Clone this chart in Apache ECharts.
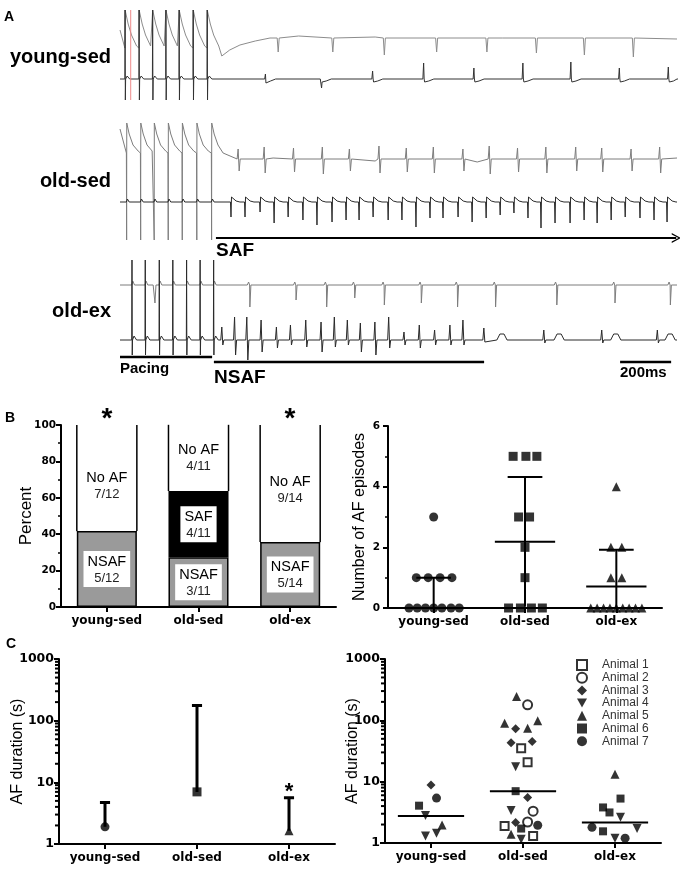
<!DOCTYPE html>
<html>
<head>
<meta charset="utf-8">
<script src="https://cdn.jsdelivr.net/npm/echarts@6/dist/echarts.min.js"></script>
<style>
  html, body { margin: 0; padding: 0; background: #fff; }
  #main { width: 680px; height: 871px; }
</style>
</head>
<body>
<div id="main"></div>
<script>
var groups = ['young-sed', 'old-sed', 'old-ex'];

// ---------- A: example recordings (time in ms, amplitude in display units, + = up)
var sweepMs = 2183;
var markerMs = 42;
var pacingSpan = [0, 361];
var nsafSpan = [368, 1427];
var scaleSpan = [1960, 2160];   // 200 ms
var safSpan = [376, 2180];

var ysPace = [20, 75, 128, 180, 232, 287, 342];
var ysUpperPath = [[0, 8], [19, -10], [399, -18], [430, -12], [470, -7], [530, -3], [588, 0], [700, 2], [1000, 1], [1500, 0], [2183, -1]];
var ysUpperBeats = [[620, 0, -14], [834, 0, -14], [1036, 0, -17], [1241, 0, -14], [1438, 0, -14], [1632, 0, -15], [1820, 0, -17], [2012, 0, -19]];
var ysLowerPath = [[0, 0], [2183, 0]];
var ysLowerBeats = [[570, 5, -4], [788, 0, -9], [990, 8, 0], [1190, 16, 0], [1387, 11, 0], [1579, 16, 0], [1767, 17, 0], [1957, 11, 0], [2149, 12, 0]];

var osPace = [26, 81, 134, 189, 244, 301, 359];
var osUpperPath = [[0, 30], [25, 6], [404, 6], [600, 1], [1000, -2], [1400, -3], [1900, -1], [2183, 1]];
var osUpperBeats = [[463, 10, -12], [565, 12, -14], [680, 11, -13], [793, 12, -15], [899, 10, -12], [1015, 13, -14], [1122, 11, -13], [1228, 12, -14],
  [1344, 10, -12], [1447, 13, -15], [1558, 11, -13], [1669, 12, -14], [1786, 12, -12], [1888, 11, -13], [2003, 10, -12], [2115, 12, -14]];
var osLowerPath = [[0, 0], [2183, 0]];
var osLowerBeats = [[435, 0, -15], [490, 0, -15], [549, 0, -10], [604, 0, -21], [659, 0, -15], [717, 0, -18], [772, 0, -23], [831, 0, -20],
  [886, 0, -18], [937, 0, -18], [992, 0, -15], [1051, 0, -18], [1105, 0, -18], [1160, 0, -25], [1215, 0, -16], [1266, 0, -16],
  [1325, 0, -15], [1380, 0, -20], [1435, 0, -16], [1490, 0, -13], [1544, 0, -11], [1599, 0, -16], [1650, 0, -26], [1705, 0, -21],
  [1764, 0, -21], [1819, 0, -18], [1870, 0, -21], [1925, 0, -18], [1980, 0, -15], [2038, 0, -16], [2093, 0, -18], [2144, 0, -20]];

var oePace = [47, 99, 154, 207, 261, 314, 367];
var oeUpperPath = [[0, 0], [130, 0], [137, -18], [141, 0], [2183, 0]];
var oeUpperBeats = [[509, 0, -22], [690, 0, -15], [810, 0, -22], [920, 0, -13], [1036, 0, -20], [1181, 0, -18], [1323, 0, -22], [1472, 0, -22],
  [1712, 0, -20], [1940, 0, -18], [2157, 0, -20]];
var oeLowerPath = [[0, 0], [2183, 0]];
var oeLowerBeats = [[399, 13, -5], [449, 23, -15], [497, 23, -20], [553, 20, -12], [613, 13, -8], [668, 15, -5], [728, 20, -7], [788, 18, -12],
  [840, 23, -7], [891, 20, -5], [942, 17, -12], [999, 18, -15], [1053, 23, -8], [1113, 8, -5], [1173, 15, -8], [1233, 10, -5],
  [1293, 15, -5], [1344, 20, -5], [1426, 12, -2], [1661, 10, -3], [1888, 10, -3], [2106, 10, -3]];
var oeLowerHumps = [[1497, 6], [1721, 6], [1943, 6], [2156, 6]];

// ---------- B: AF inducibility
var nsafPct = [41.7, 27.3, 35.7];
var safPct = [0, 36.4, 0];
var noAfPct = [58.3, 36.4, 64.3];
var nsafFrac = ['5/12', '3/11', '5/14'];
var safFrac = ['', '4/11', ''];
var noAfFrac = ['7/12', '4/11', '9/14'];

// number of AF episodes per animal, [group position (with spread), episodes]
var epYoung = [[0, 3], [-0.19, 1], [-0.06, 1], [0.07, 1], [0.2, 1], [-0.27, 0], [-0.18, 0], [-0.09, 0], [0, 0], [0.09, 0], [0.19, 0], [0.28, 0]];
var epOld = [[0.87, 5], [1.01, 5], [1.13, 5], [0.93, 3], [1.05, 3], [1, 2], [1, 1], [0.82, 0], [0.95, 0], [1.07, 0], [1.19, 0]];
var epEx = [[2, 4], [1.94, 2], [2.06, 2], [1.94, 1], [2.06, 1], [1.72, 0], [1.79, 0], [1.86, 0], [1.93, 0], [2, 0], [2.07, 0], [2.14, 0], [2.21, 0], [2.28, 0]];
var epMean = [null, 2.18, 0.71];
var epLow = [0, 0.04, 0];
var epHigh = [1.0, 4.32, 1.92];

// ---------- C: AF duration (s)
var durMid = [1.9, 7.0, 1.64];
var durTop = [4.7, 176, 5.6];
var animals = ['Animal 1', 'Animal 2', 'Animal 3', 'Animal 4', 'Animal 5', 'Animal 6', 'Animal 7'];
var animal1 = [[0.98, 35], [1.05, 20.7], [0.8, 1.9], [1.11, 1.3]];
var animal2 = [[1.05, 179], [1.11, 3.3], [1.05, 2.2]];
var animal3 = [[0, 8.8], [0.92, 73], [0.87, 43], [1.1, 45], [1.05, 5.5], [0.92, 2.16]];
var animal4 = [[-0.06, 2.8], [-0.06, 1.3], [0.06, 1.44], [0.92, 17.5], [0.87, 3.4], [0.98, 1.15], [2.06, 2.63], [2.24, 1.72], [2, 1.2]];
var animal5 = [[0.12, 1.97], [0.93, 245], [0.8, 90], [1.16, 98], [1.05, 74], [0.87, 1.39], [2, 13.2]];
var animal6 = [[-0.13, 4.06], [0.92, 7.0], [0.98, 1.72], [2.06, 5.3], [1.87, 3.8], [1.94, 3.15], [1.87, 1.55]];
var animal7 = [[0.06, 5.4], [1.16, 1.95], [1.75, 1.8], [2.11, 1.2]];
var durMedian = [2.76, 7.0, 2.16];
var logMinorTicks = [2, 3, 4, 5, 6, 7, 8, 9, 20, 30, 40, 50, 60, 70, 80, 90, 200, 300, 400, 500, 600, 700, 800, 900];

// ---------- helpers
// shapes: [dt, share of up, share of down, constant]
var ysUpperPaceShape = [[-1, 0, 0, -10], [0, 0, 0, 28], [12, 0, 0, 14], [25, 0, 0, 3], [45, 0, 0, -8]];
var ysLowerPaceShape = [[-1, 0, 0, 0], [0, 0, 0, 69], [1, 0, 0, -21], [2, 0, 0, 0], [8, 0, 0, 3], [18, 0, 0, 0]];
var osUpperPaceShape = [[-1, 0, 0, 6], [0, 0, 0, -81], [0.5, 0, 0, 36], [10, 0, 0, 25], [25, 0, 0, 14], [45, 0, 0, 8]];
var osLowerPaceShape = [[-1, 0, 0, 0], [3, 0, 0, 3], [10, 0, 0, 0]];
var oeUpperPaceShape = [[-1, 0, 0, 0], [3, 0, 0, 4], [10, 0, 0, 0]];
var oeLowerPaceShape = [[-1, 0, 0, 0], [0, 0, 0, 80], [1, 0, 0, -15], [2, 0, 0, 0], [8, 0, 0, 4], [18, 0, 0, 0]];
var spikeDown = [[-4, 0, 0, 0], [0, 0, 1, 0], [4, 0, 0, 0]];
var ysLowerShape = [[-3, 0, 0, 0], [0, 1, 0, 0], [2, 0, 1, 0], [4, 0, 0, -3], [20, 0, 0, -2], [40, 0, 0, 0]];
var biphasic = [[-4, 0, 0, 0], [0, 1, 0, 0], [4, 0, 1, 0], [8, 0, 0, 0]];
var osLowerShape = [[-2, 0, 0, 0], [0, 0, 1, 0], [2, 0, 0, 5], [6, 0, 0, 4], [20, 0, 0, 1], [35, 0, 0, 0]];
var oeUpperShape = [[-10, 0, 0, 0], [-5, 0, 0, 3], [-1, 0, 0, 0], [0, 0, 1, 0], [4, 0, 0, 0]];
var humpShape = [[-20, 0, 0, 0], [-8, 1, 0, 0], [8, 1, 0, 0], [20, 0, 0, 0]];

function build(base, path, sets) {
  var pts = path.map(function (p) { return [p[0], p[1]]; });
  sets.forEach(function (set) {
    set[0].forEach(function (b) {
      var t = typeof b === 'number' ? b : b[0];
      var up = b[1] || 0, down = b[2] || 0;
      set[1].forEach(function (s) {
        pts.push([t + s[0], s[1] * up + s[2] * down + s[3]]);
      });
    });
  });
  pts.sort(function (a, b) { return a[0] - b[0]; });
  return pts.map(function (p) { return [p[0], base - p[1]]; });
}

function trace(data, color) {
  return {
    type: 'line', xAxisIndex: 0, yAxisIndex: 0, data: data, symbol: 'none',
    lineStyle: { color: color, width: 1 }, silent: true, z: 2
  };
}

function segLine(data, xi, yi, width, color) {
  return {
    type: 'line', xAxisIndex: xi, yAxisIndex: yi, data: data, symbol: 'none', connectNulls: false,
    lineStyle: { color: color || '#000', width: width }, silent: true, z: 3
  };
}

function errorData(lo, hi, cap) {
  var d = [];
  lo.forEach(function (v, i) {
    d.push([i, v], [i, hi[i]], [null, null], [i - cap, hi[i]], [i + cap, hi[i]], [null, null]);
  });
  return d;
}

function meanData(vals, half) {
  var d = [];
  vals.forEach(function (v, i) {
    if (v === null) return;
    d.push([i - half, v], [i + half, v], [null, null]);
  });
  return d;
}

// minor ticks of the log axes, drawn outward from the left edge of the plot
function minorTickSeries(xi, yi) {
  return {
    type: 'custom', xAxisIndex: xi, yAxisIndex: yi, clip: false, silent: true, z: 4,
    data: logMinorTicks.map(function (v) { return [-0.5, v]; }),
    renderItem: function (params, api) {
      var p = api.coord([api.value(0), api.value(1)]);
      return { type: 'line', shape: { x1: p[0] - 4, y1: p[1], x2: p[0], y2: p[1] },
        style: { stroke: '#000', lineWidth: 2 } };
    }
  };
}

// open-topped outline of the stacked bars (sides only)
var barShare = 0.655;
function barSides() {
  var d = [];
  nsafPct.forEach(function (v, i) {
    var lo = v + safPct[i], top = lo + noAfPct[i];
    d.push([i - barShare / 2, lo], [i - barShare / 2, top], [null, null], [i + barShare / 2, lo], [i + barShare / 2, top], [null, null]);
  });
  return d;
}

var axisLine = { show: true, onZero: false, lineStyle: { color: '#000', width: 2 } };
var axisTick = { show: true, length: 5, lineStyle: { color: '#000', width: 2 } };
var nameFont = { fontFamily: 'Liberation Sans', fontSize: 16, color: '#000' };

function catAxis(gi) {
  return {
    gridIndex: gi, type: 'category', data: groups, axisLine: axisLine,
    axisTick: { show: true, alignWithLabel: true, length: 5, lineStyle: { color: '#000', width: 2 } },
    axisLabel: { margin: 8, interval: 0, hideOverlap: false, fontFamily: 'DejaVu Sans', fontWeight: 'bold', fontSize: 12, color: '#000' },
    splitLine: { show: false }
  };
}
function hiddenX(gi) {
  return { gridIndex: gi, type: 'value', min: -0.5, max: 2.5, show: false };
}
function logAxis(gi, gap) {
  return {
    gridIndex: gi, type: 'log', logBase: 10, min: 1, max: 1000,
    axisLine: axisLine, axisTick: axisTick,
    splitLine: { show: false },
    axisLabel: { margin: 5, fontFamily: 'DejaVu Sans', fontWeight: 'bold', fontSize: 12.5, color: '#000',
      formatter: function (v) { return String(v); } },
    name: 'AF duration (s)', nameLocation: 'middle', nameGap: gap, nameMoveOverlap: false, nameTextStyle: nameFont
  };
}

var labelRich = {
  a: { fontFamily: 'Liberation Sans', fontSize: 14.5, color: '#000', lineHeight: 17, align: 'center' },
  b: { fontFamily: 'Liberation Sans', fontSize: 13, color: '#222', lineHeight: 16, align: 'center' }
};
function boxLabel(name, fracs) {
  return {
    show: true, position: 'inside', backgroundColor: '#fff', padding: [2, 4, 1, 4],
    formatter: function (p) { return '{a|' + name + '}\n{b|' + fracs[p.dataIndex] + '}'; },
    rich: labelRich
  };
}
var noAfLabelShift = [8, 0, 6];

var downTriangle = 'path://M0,0 L20,0 L10,18 Z';
var animalSymbols = ['emptyRect', 'emptyCircle', 'diamond', downTriangle, 'triangle', 'rect', 'circle'];
var animalSize = [8, 9, 9, 9, 9, 8, 9];
var animalData = [animal1, animal2, animal3, animal4, animal5, animal6, animal7];

// axis indices
var X_A = 0, X_BL = 2, X_BR = 4, X_CL = 6, X_CR = 8;
var Y_A = 0, Y_BL = 1, Y_BR = 2, Y_CL = 3, Y_CR = 4;

var series = [
  trace(build(38, ysUpperPath, [[ysPace, ysUpperPaceShape], [ysUpperBeats, spikeDown]]), '#8c8c8c'),
  trace(build(79, ysLowerPath, [[ysPace, ysLowerPaceShape], [ysLowerBeats, ysLowerShape]]), '#333'),
  trace(build(159, osUpperPath, [[osPace, osUpperPaceShape], [osUpperBeats, biphasic]]), '#7d7d7d'),
  trace(build(202, osLowerPath, [[osPace, osLowerPaceShape], [osLowerBeats, osLowerShape]]), '#2a2a2a'),
  trace(build(285, oeUpperPath, [[oePace, oeUpperPaceShape], [oeUpperBeats, oeUpperShape]]), '#7d7d7d'),
  trace(build(340, oeLowerPath, [[oePace, oeLowerPaceShape], [oeLowerBeats, biphasic], [oeLowerHumps, humpShape]]), '#2a2a2a'),
  segLine([[markerMs, 10], [markerMs, 100]], X_A, Y_A, 1, '#ee8a8a'),
  segLine([[pacingSpan[0], 357], [pacingSpan[1], 357]], X_A, Y_A, 2.5),
  segLine([[nsafSpan[0], 362], [nsafSpan[1], 362]], X_A, Y_A, 2.5),
  segLine([[scaleSpan[0], 362], [scaleSpan[1], 362]], X_A, Y_A, 2.5),
  {
    type: 'line', xAxisIndex: X_A, yAxisIndex: Y_A, data: [], silent: true,
    markLine: {
      silent: true, animation: false,
      symbol: ['none', 'path://M0,20 L10,0 L20,20 L17,20 L10,5 L3,20 Z'], symbolSize: [10, 9],
      label: { show: false }, lineStyle: { color: '#000', width: 2, type: 'solid' },
      emphasis: { disabled: true },
      data: [[{ coord: [safSpan[0], 238] }, { coord: [safSpan[1], 238] }]]
    }
  },

  // B left: stacked percent bars
  { type: 'bar', name: 'NSAF', stack: 'af', xAxisIndex: 1, yAxisIndex: Y_BL, barWidth: '65.5%', data: nsafPct,
    itemStyle: { color: '#9a9a9a', borderColor: '#000', borderWidth: 1.5 }, label: boxLabel('NSAF', nsafFrac) },
  { type: 'bar', name: 'SAF', stack: 'af', xAxisIndex: 1, yAxisIndex: Y_BL, barWidth: '65.5%',
    data: safPct.map(function (v) { return { value: v, label: { show: v > 0 } }; }),
    itemStyle: { color: '#000', borderColor: '#000', borderWidth: 1.5 }, label: boxLabel('SAF', safFrac) },
  { type: 'bar', name: 'No AF', stack: 'af', xAxisIndex: 1, yAxisIndex: Y_BL, barWidth: '65.5%',
    data: noAfPct.map(function (v, i) { return { value: v, label: { offset: [0, noAfLabelShift[i]] } }; }),
    itemStyle: { color: '#fff', borderWidth: 0 },
    label: { show: true, position: 'inside',
      formatter: function (p) { return '{a|No AF}\n{b|' + noAfFrac[p.dataIndex] + '}'; }, rich: labelRich } },
  segLine(barSides(), X_BL, Y_BL, 1.5),

  // B right: episodes
  segLine(errorData(epLow, epHigh, 0.19), X_BR, Y_BR, 2),
  segLine(meanData(epMean, 0.33), X_BR, Y_BR, 2),
  { type: 'scatter', xAxisIndex: X_BR, yAxisIndex: Y_BR, data: epYoung, symbol: 'circle', symbolSize: 9, itemStyle: { color: '#000' }, z: 5 },
  { type: 'scatter', xAxisIndex: X_BR, yAxisIndex: Y_BR, data: epOld, symbol: 'rect', symbolSize: 9, itemStyle: { color: '#000' }, z: 5 },
  { type: 'scatter', xAxisIndex: X_BR, yAxisIndex: Y_BR, data: epEx, symbol: 'triangle', symbolSize: 9, itemStyle: { color: '#000' }, z: 5 },

  // C left: duration summary
  segLine(errorData(durMid, durTop, 0.055), X_CL, Y_CL, 3),
  { type: 'scatter', xAxisIndex: X_CL, yAxisIndex: Y_CL, data: [[0, durMid[0]]], symbol: 'circle', symbolSize: 9, itemStyle: { color: '#000' }, z: 5 },
  { type: 'scatter', xAxisIndex: X_CL, yAxisIndex: Y_CL, data: [[1, durMid[1]]], symbol: 'rect', symbolSize: 9, itemStyle: { color: '#000' }, z: 5 },
  { type: 'scatter', xAxisIndex: X_CL, yAxisIndex: Y_CL, data: [[2, durMid[2]]], symbol: 'triangle', symbolSize: 9, itemStyle: { color: '#000' }, z: 5 },
  minorTickSeries(X_CL, Y_CL),

  // C right: each episode by animal
  segLine(meanData(durMedian, 0.36), X_CR, Y_CR, 2),
  minorTickSeries(X_CR, Y_CR)
];

animals.forEach(function (name, i) {
  series.push({
    type: 'scatter', name: name, xAxisIndex: X_CR, yAxisIndex: Y_CR, data: animalData[i],
    symbol: animalSymbols[i], symbolSize: animalSize[i],
    itemStyle: { color: '#000', borderColor: '#000', borderWidth: animalSymbols[i].indexOf('empty') === 0 ? 1.5 : 0 }, z: 5
  });
});

function txt(x, y, s, size, align, weight) {
  return { type: 'text', x: x, y: y, silent: true, z: 10,
    style: { text: s, fill: '#000', font: (weight || 'bold') + ' ' + size + 'px "Liberation Sans"',
      align: align || 'left', verticalAlign: 'middle' } };
}

var option = {
  animation: false,
  backgroundColor: '#fff',
  grid: [
    { left: 120, top: 0, width: 557, height: 395 },
    { left: 61, top: 425, width: 275, height: 182 },
    { left: 388, top: 426, width: 274, height: 182 },
    { left: 59, top: 659, width: 276, height: 185 },
    { left: 385, top: 659, width: 276, height: 184 }
  ],
  xAxis: [
    { gridIndex: 0, type: 'value', min: 0, max: sweepMs, show: false },
    catAxis(1), hiddenX(1),
    catAxis(2), hiddenX(2),
    catAxis(3), hiddenX(3),
    catAxis(4), hiddenX(4)
  ],
  yAxis: [
    { gridIndex: 0, type: 'value', min: 0, max: 395, inverse: true, show: false },
    { gridIndex: 1, type: 'value', min: 0, max: 100, interval: 20, axisLine: axisLine, axisTick: axisTick,
      minorTick: { show: true, splitNumber: 2, length: 3, lineStyle: { color: '#000', width: 1.5 } },
      splitLine: { show: false },
      axisLabel: { margin: 5, fontFamily: 'DejaVu Sans', fontWeight: 'bold', fontSize: 10.5, color: '#000' },
      name: 'Percent', nameLocation: 'middle', nameGap: 26, nameMoveOverlap: false,
      nameTextStyle: { fontFamily: 'Liberation Sans', fontSize: 17, color: '#000' } },
    { gridIndex: 2, type: 'value', min: 0, max: 6, interval: 2, axisLine: axisLine, axisTick: axisTick,
      minorTick: { show: true, splitNumber: 2, length: 3, lineStyle: { color: '#000', width: 1.5 } },
      splitLine: { show: false },
      axisLabel: { margin: 8, fontFamily: 'DejaVu Sans', fontWeight: 'bold', fontSize: 10.5, color: '#000' },
      name: 'Number of AF episodes', nameLocation: 'middle', nameGap: 20.5, nameMoveOverlap: false, nameTextStyle: nameFont },
    logAxis(3, 33.5),
    logAxis(4, 24.5)
  ],
  legend: {
    data: animals, orient: 'vertical', left: 576, top: 659, padding: 0,
    itemWidth: 10, itemHeight: 10, itemGap: 0.7, selectedMode: false,
    formatter: function (n) { return '   ' + n; },
    textStyle: { fontFamily: 'Liberation Sans', fontSize: 12, lineHeight: 12, color: '#333' }
  },
  graphic: [
    txt(4, 17, 'A', 14),
    txt(111, 57, 'young-sed', 20, 'right'),
    txt(111, 181, 'old-sed', 20, 'right'),
    txt(111, 311, 'old-ex', 20, 'right'),
    txt(216, 251, 'SAF', 19),
    txt(120, 369, 'Pacing', 15),
    txt(214, 378, 'NSAF', 19),
    txt(620, 373, '200ms', 15),
    txt(5, 418, 'B', 14),
    txt(107, 419, '*', 28, 'center'),
    txt(290, 419, '*', 28, 'center'),
    txt(6, 644, 'C', 14),
    txt(289, 792, '*', 22, 'center')
  ],
  series: series
};

var chart = echarts.init(document.getElementById('main'), null, { renderer: 'canvas' });
chart.setOption(option);
</script>
</body>
</html>
